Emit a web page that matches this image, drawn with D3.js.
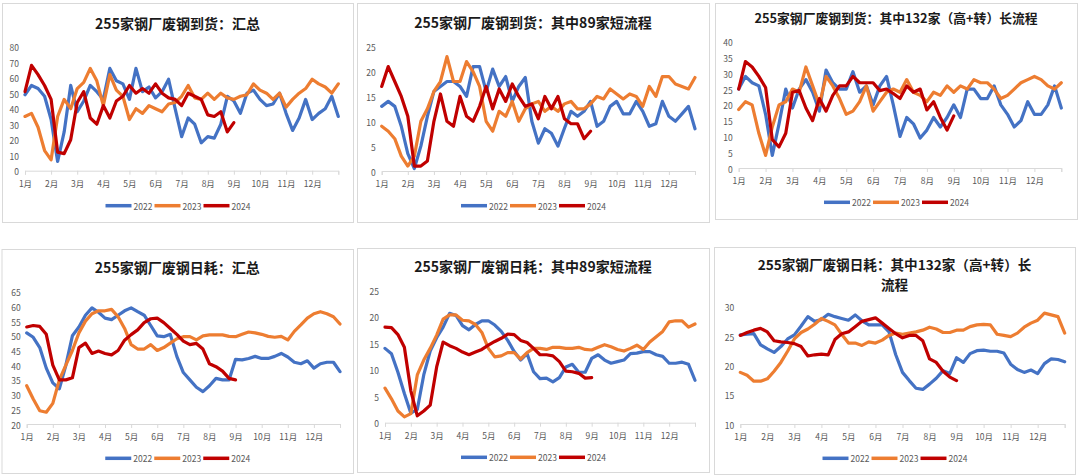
<!DOCTYPE html>
<html><head><meta charset="utf-8">
<script src="https://cdn.jsdelivr.net/npm/d3@7"></script>
<style>
body{margin:0;background:#fff}
svg{display:block}
text{font-family:"Noto Sans CJK SC","Noto Sans",sans-serif}
</style>
</head><body><svg id="c" width="1080" height="475"></svg>
<script>
// ---------- data (weekly samples, 4 per month, index 0 = 1月初) ----------
const months = ["1月","2月","3月","4月","5月","6月","7月","8月","9月","10月","11月","12月"];
const years = ["2022","2023","2024"];

const titleArrTotal = ["255家钢厂废钢到货：汇总"];
const titleArrShort = ["255家钢厂废钢到货：其中89家短流程"];
const titleArrLong  = ["255家钢厂废钢到货：其中132家（高+转）长流程"];
const titleUseTotal = ["255家钢厂废钢日耗：汇总"];
const titleUseShort = ["255家钢厂废钢日耗：其中89家短流程"];
const titleUseLong  = ["255家钢厂废钢日耗：其中132家（高+转）长", "流程"];

const ticksArrTotal = [0,10,20,30,40,50,60,70,80];
const ticksArrShort = [0,5,10,15,20,25];
const ticksArrLong  = [0,5,10,15,20,25,30,35,40];
const ticksUseTotal = [20,25,30,35,40,45,50,55,60,65];
const ticksUseShort = [0,5,10,15,20,25];
const ticksUseLong  = [10,15,20,25,30];

const arrTotal2022 = [49,55,53,48, 33,6,25,55, 38,45,55,51, 46,66,58,56, 46,66,51,54, 47,51,59,40, 22,34,30,18, 22,21,30,48, 45,37,50,52, 46,42,43,50, 37,26,34,46, 33,37,40,48, 35];
const arrTotal2023 = [35,37,28,13, 7,35,46,40, 53,57,66,58, 42,62,52,48, 33,40,37,42, 40,38,43,44, 48,55,47,46, 50,46,50,47, 46,48,49,56, 52,50,46,50, 41,46,50,53, 59,56,54,50, 56];
const arrTotal2024 = [51,68,62,55, 46,12,11,20, 44,51,34,30, 42,34,45,48, 55,50,53,50, 56,50,47,46, 42,50,48,46, 36,35,38,25, 31];

const arrShort2022 = [13,14,13,9, 3.5,0.5,5,11, 16,17,18,18, 17,15,21,21, 16,20.5,17,19, 14,17,18.8,10, 5.6,8.5,7.6,5, 8.6,12,11,12, 14,9,10,13, 14,11.5,11.5,14, 12,9,9.5,14, 11,10,11.5,13, 8.5];
const arrShort2023 = [9,8,6.5,3, 1,3,10,12.5, 16,18,23,18, 18,22,20,17, 10,8,12,11, 14,10,12.5,13.5, 14,12,13,12, 13.5,14,12.5,12.5, 13.5,15,14.5,16.5, 15.5,14.5,15.5,15, 13,17,15,19, 19,17.5,17,16.5, 18.8];
const arrShort2024 = [17,21,18,15, 11,1,1,2, 10,15.5,10,9, 15,11,10,13, 17,12.5,16.5,14, 17.5,15,13,13.5, 10.5,15,12.5,15, 10.5,9.5,9.5,6.5, 8];

const arrLong2022 = [25,29,27,26, 17,4,14,25, 19,25,28,24, 18,31,27,25, 25,30.5,24,26, 20,26,29,20, 10,16,14,9.5, 12,16,13,16, 20,16,25,25, 22,22,26,20, 17,13,15,21, 17,17,20,26, 19];
const arrLong2023 = [18.5,21,20,11, 4,13,20,21, 25,24,32,26, 20,29,26,22, 17,18,21,26, 18,21,24,25, 24,28,24,23, 21,24,23,26, 24,26,25,28, 27,27,25,22, 23,25,27,28, 29,28,26,25, 27];
const arrLong2024 = [25,33.7,32,29, 25.5,9,6.7,11, 24,24.5,19,15, 22,18,23,26, 26,29,27,27, 27,24.5,25,23.6, 22,26,24,25, 18.4,21,16,12, 16.5];

const useTotal2022 = [51,49.5,46,39, 34,32,40,50, 53,57,59.5,58, 56,55.5,57,58.5, 59.5,58.2,57,53.5, 50,49.7,50.5,43, 37.5,35,32.5,31, 33,35.5,35,35, 42,41.8,42.3,43, 42.3,42.3,43,44, 42.8,41,40.5,41.5, 39,40.5,41,41, 37.8];
const useTotal2023 = [33,28.5,24.5,24, 27,35,40,45, 51,55,57.5,58.5, 58.5,59,56.5,52.5, 47,45.5,45.5,47, 45,46,47.5,49, 49.7,49.7,48.6,50, 50.3,50.3,50.3,49.8, 49.7,50.5,51.3,51, 50.5,49.8,49.5,49.8, 48.6,51.5,53.7,56, 57.5,58.2,57.5,56.5, 54];
const useTotal2024 = [53,53.5,53.2,50.5, 40,35,35,35.7, 46,47.5,44,44.8, 44,43.5,45,48.5, 50.4,52,54.5,55.8, 56,54.5,52.5,50.5, 48.2,47,47.4,45.5, 40.5,39.5,38,35.5, 35];

const useShort2022 = [14,13,9.5,5.5, 1.8,2.5,9,13.5, 16,18,20.6,20.2, 18.3,17.5,18.5,19.2, 19.2,18.4,17.2,15.5, 13.4,11.8,13,9.6, 8.3,8.4,7.7,8.5, 10.5,11,9.5,9.5, 12.1,12.8,11.8,11.2, 11.5,11.8,13,13.1, 13.4,13.4,12.8,12.5, 11.2,11.2,11.4,11, 8];
const useShort2023 = [6.5,4.5,2.2,1.1, 1.7,9,11.8,14, 16.5,19.5,20.3,20.3, 19.3,19.2,18.5,17, 14,12.4,12.6,13.2, 13.2,12,13.2,14, 14,13.8,14.2,14.2, 14,14,14.2,13.8, 13.7,14.2,14.7,14.3, 13.8,13.5,14,14.6, 13.8,15.2,16.2,17.2, 19,19.2,19.2,18, 18.6];
const useShort2024 = [18,17.9,16.6,14.2, 6,1.3,2.2,3.3, 10.5,15.2,14.5,14, 13.3,12.8,13.3,13.8, 14.6,15.3,15.9,16.7, 16.6,15.5,15.1,14, 12.8,12.8,12.6,11.5, 9.7,9.6,9.3,8.4, 8.5];

const useLong2022 = [25.2,25.3,25.4,23.5, 22.8,22.2,23.2,24.5, 25.2,26.7,28.3,27.5, 27.8,28.7,28.3,28, 27.7,28.6,27.6,26.9, 26.9,26.9,25.7,21.8, 18.8,17.4,16.1,15.9, 16.8,17.8,19.1,18.6, 21.3,20.5,22,22.5, 22.6,22.4,22.4,22.1, 20.2,19.3,18.8,19.2, 18.6,20.3,21.1,21, 20.6];
const useLong2023 = [18.8,18.3,17.3,17.3, 17.7,19,20.5,22.4, 24.5,25.6,26.2,27, 28,27.5,26.9,25.3, 23.8,23.8,23.4,24, 23.8,24.3,25.1,25.5, 25.3,25.5,25.7,26, 26.5,26.2,25.6,25.6, 26,26,26.6,26.9, 27,26.9,25.3,25.1, 24.9,25.5,26.5,27.2, 27.7,28.9,28.6,28.3, 25.5];
const useLong2024 = [25.1,25.6,26,26.3, 25.7,24.2,24,23.9, 23.7,23.2,21.6,21.8, 21.9,21.8,24.4,25.4, 25.7,26.6,27.5,27.8, 28.1,27.2,26.3,25.4, 24.7,25.1,25.1,24.2, 21.1,20.5,19,18, 17.4];

// ---------- layout ----------
const seriesColors = ["#4472C4","#ED7D31","#C00000"];
const panels = [
  {title:titleArrTotal, tSize:14, tY:22.7, box:[2,3,351,219], x:[25,338.3], y:[170.7,46.7], ticks:ticksArrTotal, s:[arrTotal2022,arrTotal2023,arrTotal2024], legY:205.7},
  {title:titleArrShort, tSize:14, tY:21.7, box:[357,3,352,219], x:[381.7,695], y:[171,46.7], ticks:ticksArrShort, s:[arrShort2022,arrShort2023,arrShort2024], legY:205.7},
  {title:titleArrLong, tSize:12.8, tY:17.5, box:[715,3,362,216], x:[738.7,1061.3], y:[168,41.7], ticks:ticksArrLong, s:[arrLong2022,arrLong2023,arrLong2024], legY:202.3},
  {title:titleUseTotal, tSize:14, tY:266.7, box:[1.5,249,351.5,224], x:[26.7,340], y:[424,291.7], ticks:ticksUseTotal, s:[useTotal2022,useTotal2023,useTotal2024], legY:458.3},
  {title:titleUseShort, tSize:14, tY:265.7, box:[357,248,352,224], x:[385,695], y:[422.7,290], ticks:ticksUseShort, s:[useShort2022,useShort2023,useShort2024], legY:457.3},
  {title:titleUseLong, tSize:13.6, tY:264, box:[714,247,361,227], x:[740.3,1064.7], y:[424,306.7], ticks:ticksUseLong, s:[useLong2022,useLong2023,useLong2024], legY:458.3}
];

const svg = d3.select("#c");

panels.forEach(p => {
  const g = svg.append("g");
  const [bx,by,bw,bh] = p.box;
  g.append("rect").attr("x",bx+0.5).attr("y",by+0.5).attr("width",bw).attr("height",bh)
    .attr("fill","#fff").attr("stroke","#d9d9d9").attr("stroke-width",1);
  const cx = bx + bw/2;

  // title (wrapped lines)
  p.title.forEach((t,i) => {
    g.append("text").attr("x",cx).attr("y",p.tY + i*20)
      .attr("text-anchor","middle").attr("dominant-baseline","central")
      .attr("font-size",p.tSize).attr("font-weight","bold").attr("fill","#1a1a1a").text(t);
  });

  const xs = d3.scaleLinear().domain([0,48]).range(p.x);
  const ys = d3.scaleLinear().domain([p.ticks[0], p.ticks[p.ticks.length-1]]).range(p.y);

  // y axis
  const ya = g.append("g").attr("transform",`translate(${p.x[0]},0)`)
    .call(d3.axisLeft(ys).tickValues(p.ticks).tickSize(0).tickPadding(6));
  ya.select(".domain").remove();
  ya.selectAll("text").attr("font-size",8.5).attr("fill","#595959")
    .attr("font-family",'"Noto Sans CJK SC",sans-serif').attr("dy",null).attr("dominant-baseline","central");

  // x axis
  const xa = g.append("g").attr("transform",`translate(0,${p.y[0]})`)
    .call(d3.axisBottom(xs).tickValues(d3.range(0,49,4)).tickSize(4)
      .tickFormat(d => d/4 < 12 ? months[d/4] : ""));
  xa.select(".domain").attr("stroke","#d9d9d9");
  xa.selectAll(".tick line").attr("stroke","#d9d9d9");
  xa.selectAll("text").attr("font-size",8.5).attr("fill","#595959")
    .attr("font-family",'"Noto Sans CJK SC",sans-serif')
    .attr("y",12).attr("dy",null).attr("dominant-baseline","central");

  // lines
  const line = d3.line().x((d,i)=>xs(i)).y(d=>ys(d)).curve(d3.curveLinear);
  p.s.forEach((vals,k) => {
    g.append("path").datum(vals).attr("d",line)
      .attr("fill","none").attr("stroke",seriesColors[k]).attr("stroke-width",3.2)
      .attr("stroke-linejoin","round").attr("stroke-linecap","round");
  });

  // legend
  const lx0 = cx - 72;
  years.forEach((yr,k) => {
    const lx = lx0 + k*49;
    g.append("line").attr("x1",lx).attr("x2",lx+26).attr("y1",p.legY).attr("y2",p.legY)
      .attr("stroke",seriesColors[k]).attr("stroke-width",3.5);
    g.append("text").attr("x",lx+28).attr("y",p.legY).attr("dominant-baseline","central")
      .attr("font-size",8.5).attr("fill","#595959").text(yr);
  });
});
</script>
</body></html>
